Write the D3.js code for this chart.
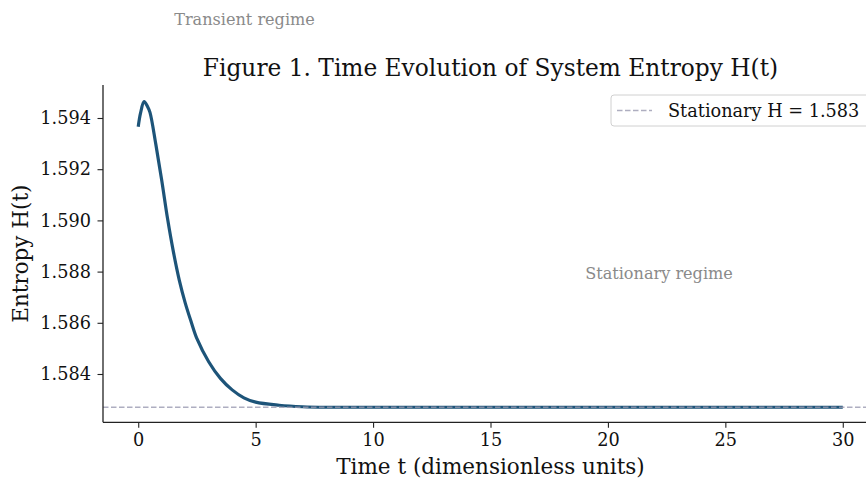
<!DOCTYPE html>
<html>
<head>
<meta charset="utf-8">
<script src="https://cdn.jsdelivr.net/npm/d3@7"></script>
<style>
  body { margin: 0; background: #fff; }
  svg { display: block; overflow: hidden; }
  text { font-family: "DejaVu Serif", serif; }
</style>
</head>
<body>
<div id="chart"></div>
<script>
// values
var times = [0, 0.1, 0.25, 0.4, 0.5, 0.75, 1.0, 1.25, 1.5, 1.75, 2.0, 2.25, 2.5, 3.0, 3.5, 4.0, 4.5, 5.0, 6.0, 7.0, 8.0, 10, 15, 20, 25, 30];
var entropy = [1.59366, 1.59420, 1.59464, 1.59444, 1.59422, 1.59297, 1.59157, 1.59006, 1.58876, 1.58766, 1.58678, 1.58605, 1.58538,
               1.58448, 1.58383, 1.58338, 1.58307, 1.58290, 1.58278, 1.58272, 1.58270, 1.58270, 1.58270, 1.58270, 1.58270, 1.58270];
var stationaryH = 1.5827;
var xTicks = [0, 5, 10, 15, 20, 25, 30];
var yTicks = [1.584, 1.586, 1.588, 1.590, 1.592, 1.594];

const width = 866, height = 480;
const mLeft = 103, mRight = 878, mTop = 85, mBottom = 422.3;

const svg = d3.select("#chart").append("svg")
    .attr("width", width)
    .attr("height", height);

var x = d3.scaleLinear().domain([-1.5, 31.5]).range([mLeft, mRight]);
var y = d3.scaleLinear().domain([1.582113, 1.595289]).range([mBottom, mTop]);

var data = times.map(function(t, i){ return {t: t, h: entropy[i]}; });

// curve
var line = d3.line()
    .x(function(d){ return x(d.t); })
    .y(function(d){ return y(d.h); })
    .curve(d3.curveCatmullRom.alpha(0.5));

svg.append("path")
    .datum(data)
    .attr("d", line)
    .attr("fill", "none")
    .attr("stroke", "#1d5479")
    .attr("stroke-width", 3.2)
    .attr("stroke-linecap", "butt");

// stationary level
svg.append("line")
    .attr("x1", mLeft).attr("x2", width)
    .attr("y1", y(stationaryH)).attr("y2", y(stationaryH))
    .attr("stroke", "#9a9ab0")
    .attr("stroke-opacity", 0.8)
    .attr("stroke-width", 1.5)
    .attr("stroke-dasharray", "5.5,2.5");

// axes
var xAxis = svg.append("g")
    .attr("transform", "translate(0," + mBottom + ")")
    .call(d3.axisBottom(x).tickValues(xTicks).tickSize(5.5).tickPadding(6).tickFormat(d3.format("d")));

var yAxis = svg.append("g")
    .attr("transform", "translate(" + mLeft + ",0)")
    .call(d3.axisLeft(y).tickValues(yTicks).tickSize(5.5).tickPadding(6.5).tickFormat(d3.format(".3f")));

[xAxis, yAxis].forEach(function(a){
    a.select(".domain").attr("stroke", "#222").attr("stroke-width", 1.3);
    a.selectAll(".tick line").attr("stroke", "#222").attr("stroke-width", 1.1);
    a.selectAll(".tick text")
        .style("font-family", "DejaVu Serif")
        .style("font-size", "17.7px")
        .attr("fill", "#111");
});
// matplotlib spine has no end caps
xAxis.select(".domain").attr("d", "M" + mLeft + ",0H" + mRight);
yAxis.select(".domain").attr("d", "M0," + mTop + "V" + mBottom);

// labels
svg.append("text")
    .attr("x", (mLeft + mRight) / 2)
    .attr("y", 76)
    .attr("text-anchor", "middle")
    .style("font-size", "23.3px")
    .attr("fill", "#111")
    .text("Figure 1. Time Evolution of System Entropy H(t)");

svg.append("text")
    .attr("x", (mLeft + mRight) / 2)
    .attr("y", 474)
    .attr("text-anchor", "middle")
    .style("font-size", "21.5px")
    .attr("fill", "#111")
    .text("Time t (dimensionless units)");

svg.append("text")
    .attr("transform", "translate(28," + ((mTop + mBottom) / 2) + ") rotate(-90)")
    .attr("text-anchor", "middle")
    .style("font-size", "21.5px")
    .attr("fill", "#111")
    .text("Entropy H(t)");

// annotations
svg.append("text")
    .attr("x", 244.5)
    .attr("y", 24.5)
    .attr("text-anchor", "middle")
    .style("font-size", "16.1px")
    .attr("fill", "#8a8a8a")
    .text("Transient regime");

svg.append("text")
    .attr("x", 659)
    .attr("y", 278.5)
    .attr("text-anchor", "middle")
    .style("font-size", "16.1px")
    .attr("fill", "#8a8a8a")
    .text("Stationary regime");

// legend
var legend = svg.append("g");
legend.append("rect")
    .attr("x", 611).attr("y", 95)
    .attr("width", 262).attr("height", 31)
    .attr("rx", 3)
    .attr("fill", "#fff").attr("fill-opacity", 0.8)
    .attr("stroke", "#d0d0d0");
legend.append("line")
    .attr("x1", 617).attr("x2", 652)
    .attr("y1", 110.5).attr("y2", 110.5)
    .attr("stroke", "#9a9ab0")
    .attr("stroke-opacity", 0.8)
    .attr("stroke-width", 1.5)
    .attr("stroke-dasharray", "5.5,2.5");
legend.append("text")
    .attr("x", 668)
    .attr("y", 116.5)
    .style("font-size", "17.7px")
    .attr("fill", "#111")
    .text("Stationary H = " + d3.format(".3f")(stationaryH));
</script>
</body>
</html>
